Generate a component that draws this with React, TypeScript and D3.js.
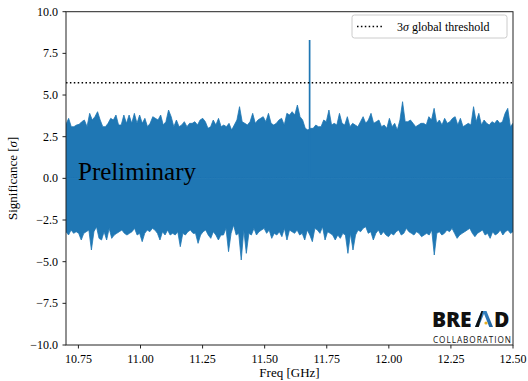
import React from "react";
import * as d3 from "d3";

// ---- data ----
const FREQ_START = 10.7;
const FREQ_END = 12.5;

// upper envelope of the significance trace (σ), left → right
const upperEnvelope = [
  3.24, 3.6, 3.1, 3.1, 3.2, 3.24, 3.4, 3.5, 3.1, 3.9,
  3.5, 3.7, 4.0, 3.5, 3.1, 3.1, 3.3, 3.6, 3.5, 3.8, 3.2,
  3.2, 3.8, 3.3, 3.8, 3.3, 3.9, 3.3, 3.8, 3.3, 3.6,
  3.1, 3.3, 3.7, 3.6, 3.5, 3.8, 3.2, 3.4, 4.1, 3.7, 3.1,
  3.5, 3.1, 3.2, 3.4, 3.1, 3.3, 3.3, 3.4, 3.2, 3.5,
  3.6, 3.4, 3.0, 3.1, 3.5, 3.2, 3.6, 3.1, 3.2, 3.1, 3.3,
  2.9, 3.2, 3.5, 4.3, 3.4, 3.3, 3.2, 3.4, 3.9, 3.3,
  3.5, 3.6, 3.7, 3.4, 3.9, 3.3, 3.2, 3.3, 3.5, 3.6, 3.2,
  3.9, 3.8, 4.0, 3.8, 4.4, 3.7, 3.5, 3.0, 2.9, 3.0,
  3.0, 3.2, 3.1, 3.1, 3.5, 3.4, 4.1, 3.2, 3.3, 3.2,
  3.9, 3.3, 3.2, 3.7, 3.1, 3.3, 3.2, 3.1, 3.4, 3.7,
  3.3, 3.5, 3.9, 3.3, 3.4, 3.5, 3.1, 3.2, 3.0, 3.6,
  3.1, 3.3, 2.9, 3.5, 4.6, 3.4, 3.4, 3.5, 3.3, 3.1,
  3.2, 3.3, 3.3, 3.2, 3.7, 3.5, 4.2, 3.3, 3.5, 3.2,
  3.6, 3.3, 3.4, 3.6, 3.7, 3.2, 3.6, 3.1, 3.2, 3.3,
  3.2, 4.3, 3.4, 3.9, 3.2, 3.5, 3.3, 3.2, 3.4, 3.3,
  3.5, 3.3, 3.4, 3.9, 4.2, 3.1, 3.3,
];

// lower envelope of the significance trace (σ), left → right
const lowerEnvelope = [
  -3.2, -3.4, -3.1, -3.3, -3.2, -3.3, -3.7, -3.3, -3.2, -3.1,
  -4.3, -3.2, -2.9, -3.6, -3.7, -3.2, -3.7, -3.0, -3.6, -3.4,
  -3.3, -3.2, -3.1, -3.3, -3.4, -3.3, -3.2, -3.0, -3.4, -3.3,
  -3.8, -3.3, -3.1, -3.2, -3.0, -3.1, -3.3, -3.7, -3.2, -3.4,
  -3.1, -3.4, -3.3, -3.4, -3.2, -4.1, -3.3, -3.4, -3.2, -3.1,
  -3.3, -3.3, -3.9, -3.4, -3.2, -3.1, -3.4, -3.6, -3.2, -3.4,
  -3.7, -3.4, -3.4, -3.0, -4.4, -3.3, -2.8, -3.4, -3.3, -4.9,
  -3.1, -4.5, -3.3, -3.4, -3.0, -3.4, -3.2, -3.1, -3.0, -3.3,
  -3.1, -3.6, -3.3, -3.4, -3.2, -3.5,
  -3.0, -3.7, -3.1, -3.2, -3.3, -3.1, -3.4, -3.3, -3.7, -3.1,
  -3.4, -3.8, -3.0, -3.1, -3.3, -2.9, -3.7, -3.2, -3.3, -3.4,
  -3.7, -3.4, -3.6, -3.3, -3.4, -4.5, -3.3, -4.3, -3.4, -3.1,
  -3.2, -3.0, -2.9, -3.3, -3.2, -3.7, -3.3, -3.1, -3.4, -3.2,
  -3.4, -3.5, -3.3, -3.4, -3.2, -3.1, -3.4, -3.3, -3.0, -3.2,
  -3.3, -3.4, -3.2, -3.3, -3.5, -3.4, -3.3, -3.4, -3.1, -4.6,
  -3.3, -3.2, -3.4, -3.3, -3.1, -3.2, -3.0, -3.3, -3.6, -3.4,
  -3.3, -3.2, -3.1, -3.0, -3.3, -3.5, -3.3, -3.2, -3.1, -3.4,
  -3.3, -3.6, -3.2, -3.4, -3.3, -3.1, -3.4, -3.2, -3.1, -3.3, -3.2,
];

// candidate signal spike
const spikeFreq = 11.681;
const spikeValue = 8.3;

// 3σ global threshold level (in local σ)
const thresholdValue = 5.74;

const xTicks = [10.75, 11.0, 11.25, 11.5, 11.75, 12.0, 12.25, 12.5];
const yTicks = [-10, -7.5, -5, -2.5, 0, 2.5, 5, 7.5, 10];

// ---- layout ----
const W = 528;
const H = 381;
const L = 66;
const R = 513;
const T = 11.7;
const B = 345;
const BLUE = "#1f77b4";
const SERIF = "'Liberation Serif', 'DejaVu Serif', serif";
const SANS = "'Open Sans', 'DejaVu Sans', sans-serif";

export default function App() {
  const x = d3.scaleLinear().domain([FREQ_START, FREQ_END]).range([L, R]);
  const y = d3.scaleLinear().domain([-10, 10]).range([B, T]);

  const idxU = d3.scaleLinear().domain([0, upperEnvelope.length - 1]).range([FREQ_START, FREQ_END]);
  const idxL = d3.scaleLinear().domain([0, lowerEnvelope.length - 1]).range([FREQ_START, FREQ_END]);

  const upperArea = d3
    .area<number>()
    .x((_, i) => x(idxU(i)))
    .y0(y(0))
    .y1((d) => y(d))
    .curve(d3.curveLinear);
  const lowerArea = d3
    .area<number>()
    .x((_, i) => x(idxL(i)))
    .y0(y(0))
    .y1((d) => y(d))
    .curve(d3.curveLinear);

  const fmtY = (v: number) => (v < 0 ? "\u2212" : "") + Math.abs(v).toFixed(1);

  return (
    <svg
      width={W}
      height={H}
      style={{ position: "absolute", left: 0, top: 0, background: "#fff" }}
      fontFamily={SERIF}
    >
      <defs>
        <clipPath id="plotclip">
          <rect x={L} y={T} width={R - L} height={B - T} />
        </clipPath>
        <linearGradient id="archgrad" x1="0" y1="0" x2="1" y2="1">
          <stop offset="0%" stopColor="#3b8fd0" />
          <stop offset="100%" stopColor="#1d5f9c" />
        </linearGradient>
      </defs>

      <g clipPath="url(#plotclip)">
        <path d={upperArea(upperEnvelope) || ""} fill={BLUE} stroke={BLUE} strokeWidth={0.8} strokeLinejoin="miter" />
        <path d={lowerArea(lowerEnvelope) || ""} fill={BLUE} stroke={BLUE} strokeWidth={0.8} strokeLinejoin="miter" />
        <line
          x1={x(spikeFreq)}
          x2={x(spikeFreq)}
          y1={y(0)}
          y2={y(spikeValue)}
          stroke={BLUE}
          strokeWidth={1.7}
        />
        <line
          x1={L}
          x2={R}
          y1={y(thresholdValue)}
          y2={y(thresholdValue)}
          stroke="#000"
          strokeWidth={1.5}
          strokeDasharray="1.5 2.4"
        />
      </g>

      {/* Preliminary label */}
      <text x={78} y={180} fontSize={25} fill="#000">
        Preliminary
      </text>

      {/* frame */}
      <rect x={L} y={T} width={R - L} height={B - T} fill="none" stroke="#222" strokeWidth={1} />

      {/* x axis ticks */}
      {xTicks.map((t) => (
        <g key={"x" + t}>
          <line x1={x(t)} x2={x(t)} y1={B} y2={B + 3.5} stroke="#222" strokeWidth={1} />
          <text x={x(t)} y={363} fontSize={12} textAnchor="middle" fill="#000">
            {t.toFixed(2)}
          </text>
        </g>
      ))}
      {/* y axis ticks */}
      {yTicks.map((t) => (
        <g key={"y" + t}>
          <line x1={L - 3.5} x2={L} y1={y(t)} y2={y(t)} stroke="#222" strokeWidth={1} />
          <text x={58} y={y(t) + 4} fontSize={12} textAnchor="end" fill="#000">
            {fmtY(t)}
          </text>
        </g>
      ))}

      {/* axis titles */}
      <text x={(L + R) / 2} y={377} fontSize={13} textAnchor="middle" fill="#000">
        Freq [GHz]
      </text>
      <text
        transform={`translate(17, ${(T + B) / 2}) rotate(-90)`}
        fontSize={13}
        textAnchor="middle"
        fill="#000"
      >
        Significance [<tspan fontStyle="italic">σ</tspan>]
      </text>

      {/* legend */}
      <g>
        <rect x={352} y={15} width={155} height={23} rx={2.5} fill="#fff" fillOpacity={0.8} stroke="#ccc" strokeWidth={1} />
        <line x1={357} x2={384} y1={26.5} y2={26.5} stroke="#000" strokeWidth={1.5} strokeDasharray="1.5 2.4" />
        <text x={397} y={30.5} fontSize={12} fill="#000">
          3<tspan fontStyle="italic">σ</tspan> global threshold
        </text>
      </g>

      {/* BREAD collaboration logo */}
      <g fontFamily={SANS} fontWeight={800} fill="#111">
        <text x={432} y={327} fontSize={21}>B</text>
        <text x={446} y={327} fontSize={21}>R</text>
        <text x={460} y={327} fontSize={21}>E</text>
        <path d="M475,327 L481.5,311 L486.5,311 L493,327 L489.3,327 L484,313.8 L478.7,327 Z" fill="url(#archgrad)" />
        <path d="M475,327 L481.5,311 L483,311 L478.7,327 Z" fill="#111" />
        <circle cx={486} cy={323} r={1.6} fill="#e8b020" />
        <text x={494} y={327} fontSize={21}>D</text>
        <text x={433} y={343} fontSize={8.2} fontWeight={500} textLength={78} lengthAdjust="spacing">
          COLLABORATION
        </text>
      </g>
    </svg>
  );
}
